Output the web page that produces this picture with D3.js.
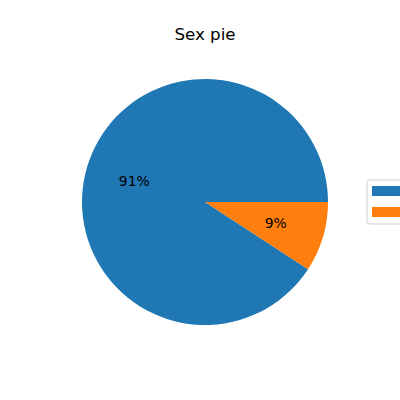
<!DOCTYPE html>
<html>
<head>
<meta charset="utf-8">
<script src="https://cdn.jsdelivr.net/npm/d3@7"></script>
<style>
  body { margin: 0; background: #fff; }
  svg { display: block; font-family: "DejaVu Sans", sans-serif; }
</style>
</head>
<body>
<div id="chart"></div>
<script>
// data
const categories = ['Male', 'Female'];
const shares = [0.908, 0.092];
const colors = ['#1f77b4', '#ff7f0e'];

const width = 400, height = 400;
const cx = 205, cy = 202, radius = 123;

const svg = d3.select('#chart')
    .append('svg')
    .attr('width', width)
    .attr('height', height);

svg.append('text')
    .attr('x', cx)
    .attr('y', 40)
    .attr('text-anchor', 'middle')
    .style('font-size', '16.7px')
    .attr('fill', '#000')
    .text('Sex pie');

// matplotlib style: start at 3 o'clock, go counter-clockwise
const pie = d3.pie()
    .sort(null)
    .startAngle(Math.PI / 2)
    .endAngle(Math.PI / 2 - 2 * Math.PI);

const arcs = pie(shares);
const arc = d3.arc().innerRadius(0).outerRadius(radius);
const labelArc = d3.arc().innerRadius(radius * 0.6).outerRadius(radius * 0.6);

const g = svg.append('g').attr('transform', `translate(${cx},${cy})`);

g.selectAll('path')
    .data(arcs)
    .enter()
    .append('path')
    .attr('d', arc)
    .attr('fill', (d, i) => colors[i]);

const total = d3.sum(shares);
g.selectAll('.pct')
    .data(arcs)
    .enter()
    .append('text')
    .attr('class', 'pct')
    .attr('transform', d => `translate(${labelArc.centroid(d)})`)
    .attr('text-anchor', 'middle')
    .attr('dy', '0.35em')
    .style('font-size', '13.9px')
    .attr('fill', '#000')
    .text(d => Math.round(d.value / total * 100) + '%');

// legend: box runs off the right edge like the original, labels not visible there
const legend = svg.append('g').attr('transform', 'translate(367,180)');
legend.append('rect')
    .attr('width', 90)
    .attr('height', 44)
    .attr('rx', 3)
    .attr('fill', '#fff')
    .attr('fill-opacity', 0.8)
    .attr('stroke', '#d0d0d0');

legend.selectAll('.swatch')
    .data(categories)
    .enter()
    .append('rect')
    .attr('class', 'swatch')
    .attr('x', 5)
    .attr('y', (d, i) => 6 + i * 21)
    .attr('width', 28)
    .attr('height', 10)
    .attr('fill', (d, i) => colors[i]);
</script>
</body>
</html>
